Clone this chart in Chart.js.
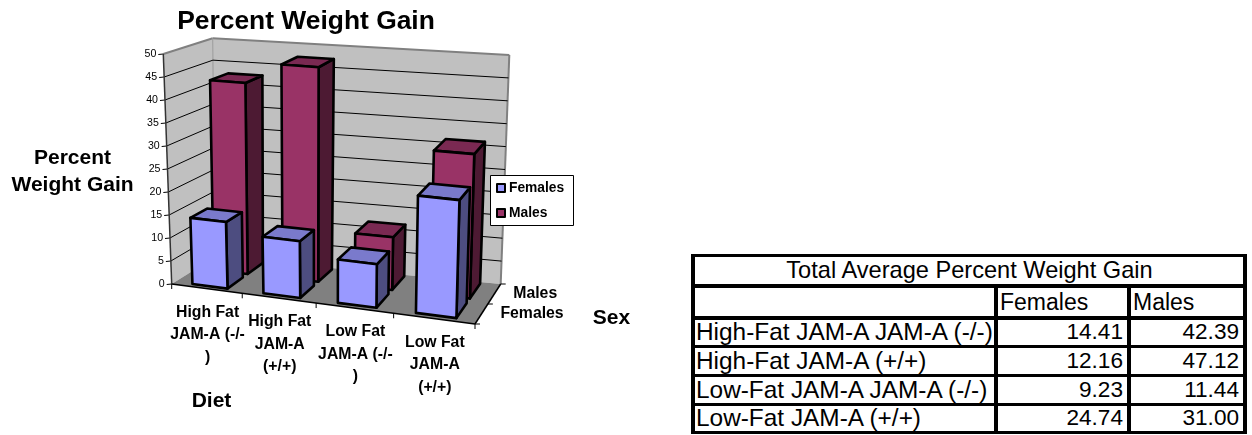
<!DOCTYPE html>
<html>
<head>
<meta charset="utf-8">
<title>Percent Weight Gain</title>
<script src="https://cdn.jsdelivr.net/npm/chart.js@4/dist/chart.umd.min.js"></script>
<style>
  html, body { margin: 0; padding: 0; background: #fff; }
  #wrap { position: relative; width: 1252px; height: 435px; overflow: hidden; }
  #gain { position: absolute; left: 0; top: 0; }
  #summary { position: absolute; left: 691px; top: 254px; border-collapse: separate; border-spacing: 0;
    table-layout: fixed; width: 556px; border-top: 3px solid #000; border-left: 4px solid #000;
    font-family: "Liberation Sans", Arial, sans-serif; color: #000; box-sizing: border-box; }
  #summary td { box-sizing: border-box; border-right: 4px solid #000; border-bottom: 3px solid #000;
    padding: 0 0 0 1px; line-height: 1; white-space: nowrap; overflow: hidden; font-size: 24.4px; }
  #summary tr.wide td { border-bottom-width: 4px; }
  #summary td.num { text-align: right; font-size: 22.6px; padding: 0 4px 0 0; }
  #summary td.head { text-align: center; font-size: 23.6px; }
  #summary td.side { font-size: 23px; padding-left: 2px; }
</style>
</head>
<body>
<div id="wrap">
  <canvas id="gain" width="640" height="435"></canvas>
  <table id="summary"></table>
</div>
<script>
var chartTitle = 'Percent Weight Gain';
var categories = [['High Fat', 'JAM-A (-/-', ')'], ['High Fat', 'JAM-A', '(+/+)'], ['Low Fat', 'JAM-A (-/-', ')'], ['Low Fat', 'JAM-A', '(+/+)']];
var seriesNames = ['Females', 'Males'];
var females = [14.41, 12.16, 9.23, 24.74];
var males = [42.39, 47.12, 11.44, 31.00];
var yTitle = ['Percent', 'Weight Gain'];
var xTitle = 'Diet';
var depthTitle = 'Sex';
var tableTitle = 'Total Average Percent Weight Gain';
var tableRows = ['High-Fat JAM-A JAM-A (-/-)', 'High-Fat JAM-A (+/+)', 'Low-Fat JAM-A JAM-A (-/-)', 'Low-Fat JAM-A (+/+)'];
var tableFemales = ['14.41', '12.16', '9.23', '24.74'];
var tableMales = ['42.39', '47.12', '11.44', '31.00'];

//colours for each series: front, side, top
var faces = [
  { front: '#9999ff', side: '#4d4d80', top: '#7a7acc' },
  { front: '#993366', side: '#4d1a33', top: '#7a2952' }
];

//corners of the plot box on screen
//u runs along the diet axis, v into the page, w up the value axis
var box = {
  fl0: [171.7, 284], fl1: [163.3, 54],
  bl0: [215, 257], bl1: [212.7, 38.3],
  br0: [500.7, 284], br1: [509.3, 55],
  fr0: [475, 324], fr1: [482, 84]
};
var foreshorten = 1.1;

function mix(a, b, t) {
  return [a[0] + (b[0] - a[0]) * t, a[1] + (b[1] - a[1]) * t];
}

//turn a point in the box into canvas pixels
function project(u, v, w) {
  var s = u / (u + (1 - u) * foreshorten);
  var front = mix(mix(box.fl0, box.fr0, s), mix(box.fl1, box.fr1, s), w);
  var back = mix(mix(box.bl0, box.br0, s), mix(box.bl1, box.br1, s), w);
  return mix(front, back, v);
}

function poly(ctx, pts, fill, stroke, lw) {
  ctx.beginPath();
  ctx.moveTo(pts[0][0], pts[0][1]);
  for (var i = 1; i < pts.length; i++) {
    ctx.lineTo(pts[i][0], pts[i][1]);
  }
  ctx.closePath();
  if (fill) {
    ctx.fillStyle = fill;
    ctx.fill();
  }
  if (stroke) {
    ctx.strokeStyle = stroke;
    ctx.lineWidth = lw;
    ctx.lineJoin = 'round';
    ctx.stroke();
  }
}

function line(ctx, a, b, color, lw) {
  ctx.beginPath();
  ctx.moveTo(a[0], a[1]);
  ctx.lineTo(b[0], b[1]);
  ctx.strokeStyle = color;
  ctx.lineWidth = lw;
  ctx.stroke();
}

function label(ctx, text, x, y, font, align) {
  ctx.font = font;
  ctx.fillStyle = '#000';
  ctx.textAlign = align || 'center';
  ctx.textBaseline = 'middle';
  ctx.fillText(text, x, y);
}

function drawWalls(ctx, chart) {
  var yScale = chart.scales.y;
  var area = chart.chartArea;
  poly(ctx, [box.fl0, box.fl1, box.bl1, box.bl0], '#c0c0c0');
  poly(ctx, [box.bl0, box.bl1, box.br1, box.br0], '#c0c0c0');
  poly(ctx, [box.fl0, box.fr0, box.br0, box.bl0], '#808080');
  line(ctx, box.fl1, box.bl1, '#808080', 2);
  line(ctx, box.bl1, box.br1, '#808080', 2);
  line(ctx, box.br1, box.br0, '#808080', 2);
  line(ctx, box.bl1, box.bl0, '#999999', 1);

  yScale.ticks.forEach(function(tick) {
    var w = (area.bottom - yScale.getPixelForValue(tick.value)) / area.height;
    var a = project(0, 0, w);
    var b = project(0, 1, w);
    var c = project(1, 1, w);
    if (tick.value > 0 && tick.value < 50) {
      line(ctx, a, b, '#000', 1);
      line(ctx, b, c, '#000', 1);
    }
    line(ctx, [a[0] - 5, a[1] + 0.5], a, '#000', 1);
    label(ctx, String(tick.value), a[0] - 7, a[1], '10.6px "Liberation Sans", Arial, sans-serif', 'right');
  });

  line(ctx, box.fl0, box.fl1, '#333333', 1.5);
  line(ctx, box.fl0, box.fr0, '#000', 1.5);
  line(ctx, box.fr0, box.br0, '#000', 1.5);

  //tick marks under the front edge and beside the depth edge
  for (var i = 0; i <= chart.data.labels.length; i++) {
    var p = project(i / chart.data.labels.length, 0, 0);
    line(ctx, p, [p[0], p[1] + 5], '#000', 1);
  }
  for (var d = 0; d <= seriesNames.length; d++) {
    var q = project(1, d / seriesNames.length, 0);
    line(ctx, q, [q[0] + 5, q[1]], '#000', 1);
  }
}

function drawBar(ctx, chart, datasetIndex, i) {
  var bar = chart.getDatasetMeta(datasetIndex).data[i];
  var area = chart.chartArea;
  var u0 = (bar.x - bar.width / 2 - area.left) / area.width;
  var u1 = (bar.x + bar.width / 2 - area.left) / area.width;
  var h = (area.bottom - bar.y) / area.height;
  var v0 = datasetIndex * 0.5 + 0.08;
  var v1 = v0 + 0.38;
  var c = faces[datasetIndex];
  poly(ctx, [project(u1, v0, 0), project(u1, v1, 0), project(u1, v1, h), project(u1, v0, h)], c.side, '#000', 2.6);
  poly(ctx, [project(u0, v0, h), project(u1, v0, h), project(u1, v1, h), project(u0, v1, h)], c.top, '#000', 2.6);
  poly(ctx, [project(u0, v0, 0), project(u1, v0, 0), project(u1, v0, h), project(u0, v0, h)], c.front, '#000', 2.6);
}

function drawAxisText(ctx, chart) {
  var bold = 'bold 15.8px "Liberation Sans", Arial, sans-serif';
  var big = 'bold 21px "Liberation Sans", Arial, sans-serif';
  chart.data.labels.forEach(function(lines, i) {
    var p = project((i + 0.5) / chart.data.labels.length, 0, 0);
    lines.forEach(function(text, n) {
      label(ctx, text, p[0] + 1, p[1] + 24 + n * 22.5, bold);
    });
  });
  seriesNames.forEach(function(name, d) {
    var p = project(1, d * 0.5 + 0.25, 0);
    label(ctx, name, p[0] + 19, p[1], bold, 'left');
  });
  label(ctx, yTitle[0], 72.5, 158, big);
  label(ctx, yTitle[1], 72.5, 185, big);
  label(ctx, xTitle, 211.5, 401, big);
  label(ctx, depthTitle, 611.5, 318, big);
}

function drawLegend(ctx) {
  ctx.fillStyle = '#fff';
  ctx.fillRect(490.5, 175.5, 83, 50);
  ctx.strokeStyle = '#000';
  ctx.lineWidth = 1;
  ctx.strokeRect(490.5, 175.5, 83, 50);
  seriesNames.forEach(function(name, d) {
    var y = 188 + d * 25;
    ctx.fillStyle = faces[d].front;
    ctx.strokeStyle = '#000';
    ctx.lineWidth = 2;
    ctx.fillRect(497, y - 4, 8, 8);
    ctx.strokeRect(497, y - 4, 8, 8);
    label(ctx, name, 509, y, 'bold 13.8px "Liberation Sans", Arial, sans-serif', 'left');
  });
}

//the flat bars only feed the scales, this plugin paints them as a box scene
var scenePlugin = {
  id: 'scene',
  beforeDatasetsDraw: function(chart) {
    var ctx = chart.ctx;
    ctx.save();
    drawWalls(ctx, chart);
    for (var d = chart.data.datasets.length - 1; d >= 0; d--) {
      for (var i = 0; i < chart.data.labels.length; i++) {
        drawBar(ctx, chart, d, i);
      }
    }
    drawAxisText(ctx, chart);
    drawLegend(ctx);
    ctx.restore();
    return false;
  }
};

var chart = new Chart(document.getElementById('gain').getContext('2d'), {
  type: 'bar',
  data: {
    labels: categories,
    datasets: [
      { label: seriesNames[0], data: females, grouped: false },
      { label: seriesNames[1], data: males, grouped: false }
    ]
  },
  options: {
    responsive: false,
    animation: false,
    barPercentage: 0.5,
    categoryPercentage: 1,
    layout: { padding: { left: 172, right: 200, top: 0, bottom: 110 } },
    scales: {
      x: { display: false },
      y: { display: false, min: 0, max: 50, ticks: { stepSize: 5 } }
    },
    plugins: {
      legend: { display: false },
      tooltip: { enabled: false },
      title: {
        display: true,
        text: chartTitle,
        color: '#000',
        fullSize: false,
        font: { family: '"Liberation Sans", Arial, sans-serif', size: 26.4, weight: 'bold' },
        padding: { top: 6, bottom: 4 }
      }
    }
  },
  plugins: [scenePlugin]
});

//summary table next to the chart
function buildTable() {
  var html = '<colgroup><col style="width:303px"><col style="width:133px"><col style="width:116px"></colgroup>';
  html += '<tr class="wide" style="height:31px"><td class="head" colspan="3">' + tableTitle + '</td></tr>';
  html += '<tr class="wide" style="height:32px"><td></td><td class="side">' + seriesNames[0] + '</td><td class="side">' + seriesNames[1] + '</td></tr>';
  var heights = [28, 29, 29, 28];
  for (var i = 0; i < tableRows.length; i++) {
    html += '<tr style="height:' + heights[i] + 'px"><td>' + tableRows[i] + '</td><td class="num">' + tableFemales[i] + '</td><td class="num">' + tableMales[i] + '</td></tr>';
  }
  document.getElementById('summary').innerHTML = html;
}
buildTable();
</script>
</body>
</html>
